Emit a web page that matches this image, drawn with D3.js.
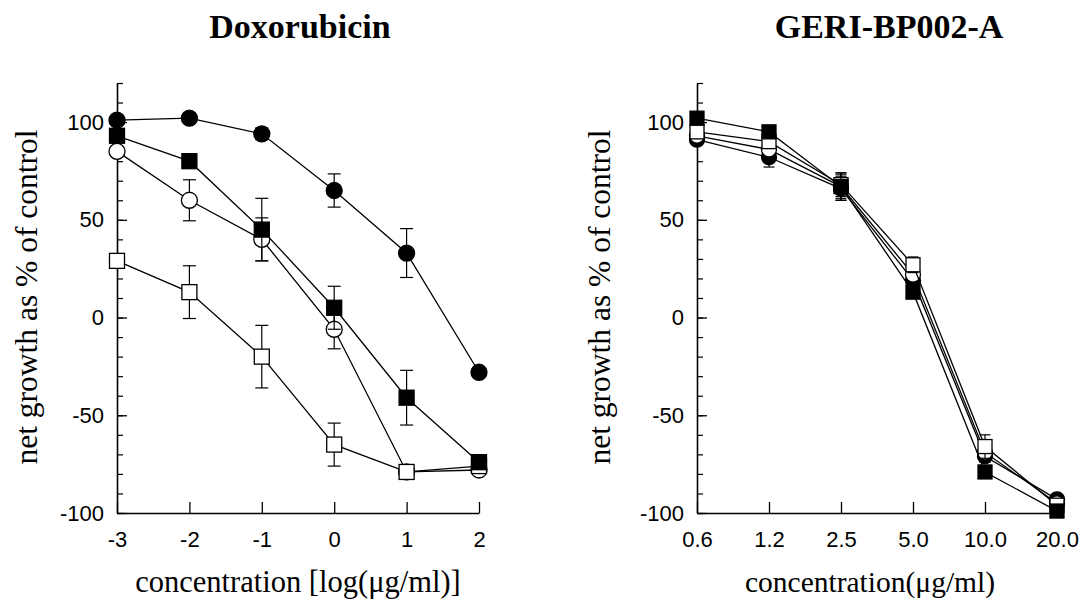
<!DOCTYPE html>
<html><head><meta charset="utf-8">
<script src="https://cdn.jsdelivr.net/npm/d3@7"></script>
<style>body{margin:0;background:#fff}</style>
</head><body>
<svg id="c" width="1086" height="603"></svg>
<script>
// ---- data ----
const doxoConc = [-3, -2, -1, 0, 1, 2];
const doxoFilledCircle    = [101, 102, 94, 65, 33, -28];
const doxoFilledCircleErr = [2, 1, 3, 8.5, 12.5, 2];
const doxoFilledSquare    = [93, 80, 45, 5, -41, -74];
const doxoFilledSquareErr = [2, 3, 16, 11, 14, 2];
const doxoOpenCircle      = [85, 60, 40, -6, -79, -78];
const doxoOpenCircleErr   = [2, 10.5, 11, 10, 2, 2];
const doxoOpenSquare      = [29, 13, -20, -65, -79, -76];
const doxoOpenSquareErr   = [2, 13.5, 16, 11, 2, 2];

const geriConc = ["0.6", "1.2", "2.5", "5.0", "10.0", "20.0"];
const geriFilledCircle    = [91, 82, 66, 19, -71, -93];
const geriFilledCircleErr = [2, 5, 6, 3, 3, 1];
const geriOpenCircle      = [93, 86, 67, 22, -69, -95];
const geriOpenCircleErr   = [2, 3, 6, 3, 3, 1];
const geriOpenSquare      = [95, 90, 68, 27, -66, -96];
const geriOpenSquareErr   = [2, 3, 6, 4, 6, 1];
const geriFilledSquare    = [102, 95, 67, 13, -79, -99];
const geriFilledSquareErr = [2, 2, 7, 3, 3, 1];

const yMajorTicks = [-100, -50, 0, 50, 100];
const yMinorTicks = d3.range(-100, 121, 10);
const doxoTicks = [-3, -2, -1, 0, 1, 2];

const titles = ["Doxorubicin", "GERI-BP002-A"];
const yLabel = "net growth as % of control";
const xLabels = ["concentration [log(\u03bcg/ml)]", "concentration(\u03bcg/ml)"];

// ---- drawing ----
const svg = d3.select("#c");
const serif = "'Times New Roman', 'Liberation Serif', serif";
const sans = "Arial, 'Liberation Sans', sans-serif";
const hyphen = d => String(d).replace("\u2212", "-");

function panel(opt) {
  const g = svg.append("g");
  const x = opt.x, y = opt.y;
  const x0 = x.range()[0];
  const yb = y.range()[0];

  // minor y ticks
  g.append("g").attr("transform", `translate(${x0},0)`)
    .call(d3.axisLeft(y).tickValues(yMinorTicks).tickSize(-6).tickSizeOuter(0).tickFormat(""))
    .call(a => a.select(".domain").remove())
    .selectAll("line").attr("stroke-width", 1.2);
  // major y ticks
  const ya = g.append("g").attr("transform", `translate(${x0},0)`)
    .call(d3.axisLeft(y).tickValues(yMajorTicks).tickFormat(d => String(d)).tickSize(-10).tickSizeOuter(0).tickPadding(13));
  ya.select(".domain").attr("stroke-width", 1.6);
  ya.selectAll("line").attr("stroke-width", 1.3);
  ya.selectAll("text").attr("font-family", sans).attr("font-size", 22).attr("fill", "#000");

  // x axis
  const xa = g.append("g").attr("transform", `translate(0,${yb})`)
    .call(opt.xAxis.tickSize(-11).tickSizeOuter(0).tickPadding(18));
  xa.select(".domain").attr("stroke-width", 1.6);
  xa.selectAll("line").attr("stroke-width", 1.3);
  xa.selectAll("text").attr("font-family", sans).attr("font-size", 22).attr("fill", "#000");

  // series
  opt.series.forEach(s => {
    const pts = opt.xs.map((c, i) => ({ x: x(c), y: y(s.v[i]), lo: y(s.v[i] - s.e[i]), hi: y(s.v[i] + s.e[i]) }));
    const sg = g.append("g");
    sg.append("path").datum(pts)
      .attr("d", d3.line().x(d => d.x).y(d => d.y))
      .attr("fill", "none").attr("stroke", "#000").attr("stroke-width", 1.3);
    const cw = opt.cap;
    pts.forEach(p => {
      sg.append("line").attr("x1", p.x).attr("x2", p.x).attr("y1", p.lo).attr("y2", p.hi)
        .attr("stroke", "#000").attr("stroke-width", 1.2);
      [p.lo, p.hi].forEach(yy => sg.append("line")
        .attr("x1", p.x - cw / 2).attr("x2", p.x + cw / 2).attr("y1", yy).attr("y2", yy)
        .attr("stroke", "#000").attr("stroke-width", 1.2));
    });
    const fill = s.filled ? "#000" : "#fff";
    pts.forEach(p => {
      if (s.shape === "circle") {
        sg.append("circle").attr("cx", p.x).attr("cy", p.y).attr("r", opt.r)
          .attr("fill", fill).attr("stroke", "#000").attr("stroke-width", 1.3);
      } else {
        sg.append("rect").attr("x", p.x - opt.sq / 2).attr("y", p.y - opt.sq / 2)
          .attr("width", opt.sq).attr("height", opt.sq)
          .attr("fill", fill).attr("stroke", "#000").attr("stroke-width", 1.3);
      }
    });
  });

  // texts
  svg.append("text").attr("x", opt.titleX).attr("y", 38).attr("text-anchor", "middle")
    .attr("font-family", serif).attr("font-weight", "bold").attr("font-size", 34).text(opt.title);
  svg.append("text").attr("transform", `translate(${opt.yLabX},297) rotate(-90)`)
    .attr("text-anchor", "middle").attr("font-family", serif).attr("font-size", 31.5).text(yLabel);
  svg.append("text").attr("x", opt.xLabX).attr("y", 592).attr("text-anchor", "middle")
    .attr("font-family", serif).attr("font-size", opt.xLabSize).text(opt.xLabel);
}

const yL = d3.scaleLinear().domain([-100, 120]).range([513, 83]);
const xL = d3.scaleLinear().domain([-3, 2]).range([117, 479]);
panel({
  x: xL, y: yL, xs: doxoConc,
  xAxis: d3.axisBottom(xL).tickValues(doxoTicks).tickFormat(d => String(d)),
  series: [
    { v: doxoOpenCircle, e: doxoOpenCircleErr, shape: "circle", filled: false },
    { v: doxoOpenSquare, e: doxoOpenSquareErr, shape: "square", filled: false },
    { v: doxoFilledSquare, e: doxoFilledSquareErr, shape: "square", filled: true },
    { v: doxoFilledCircle, e: doxoFilledCircleErr, shape: "circle", filled: true }
  ],
  r: 8, sq: 15, cap: 13,
  title: titles[0], titleX: 300, yLabX: 37, xLabX: 298, xLabSize: 30.5, xLabel: xLabels[0]
});

const yR = d3.scaleLinear().domain([-100, 120]).range([513, 83]);
const xR = d3.scalePoint().domain(geriConc).range([697, 1057]);
panel({
  x: xR, y: yR, xs: geriConc,
  xAxis: d3.axisBottom(xR),
  series: [
    { v: geriFilledCircle, e: geriFilledCircleErr, shape: "circle", filled: true },
    { v: geriOpenCircle, e: geriOpenCircleErr, shape: "circle", filled: false },
    { v: geriOpenSquare, e: geriOpenSquareErr, shape: "square", filled: false },
    { v: geriFilledSquare, e: geriFilledSquareErr, shape: "square", filled: true }
  ],
  r: 7.5, sq: 14, cap: 11,
  title: titles[1], titleX: 889, yLabX: 610, xLabX: 870, xLabSize: 29.5, xLabel: xLabels[1]
});
</script>
</body></html>
